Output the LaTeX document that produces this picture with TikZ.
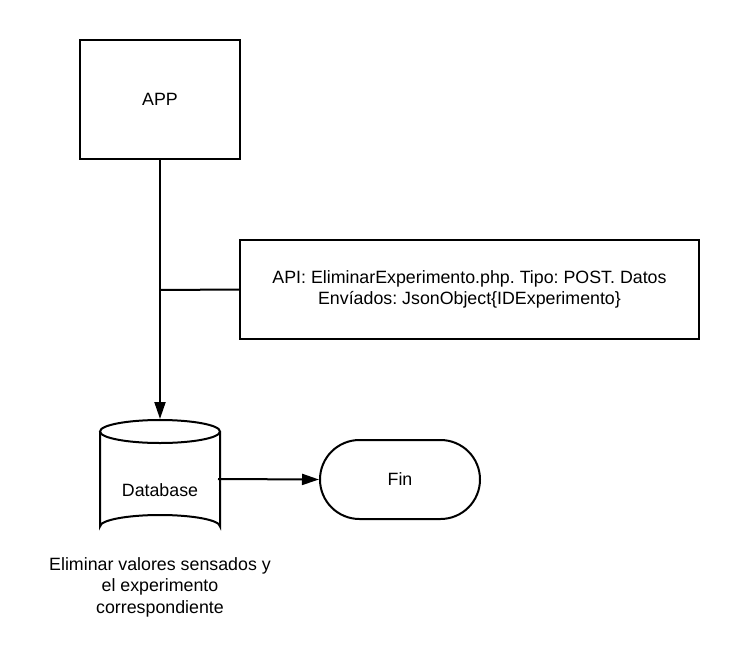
\documentclass[tikz,border=0pt]{standalone}
\usepackage{fontspec}
\setmainfont{Liberation Sans}
\usetikzlibrary{arrows.meta}
\frenchspacing
\begin{document}
\begin{tikzpicture}[x=1pt,y=-1pt,
  line width=2pt,
  every node/.style={font=\fontsize{17.8}{21.5}\selectfont, align=center},
  procbox/.style={draw, rectangle, inner sep=0pt},
  termbox/.style={draw, rectangle, rounded corners=39.5pt, inner sep=0pt,
    minimum width=160pt, minimum height=79pt},
  flow/.style={-{Triangle[length=17pt,width=11pt]}}
]
\useasboundingbox (0,0) rectangle (740,667);

% application box
\node[procbox, minimum width=160pt, minimum height=119pt] (app) at (160,99.5) {APP};

% request description
\node[procbox, minimum width=459pt, minimum height=99pt] (api) at (469.5,289.5)
  {API: EliminarExperimento.php. Tipo: POST. Datos\\Envíados: JsonObject\{IDExperimento\}};

% database cylinder
\node[minimum width=120pt, minimum height=118pt, inner sep=0pt] (db) at (160,479) {};
\draw (100,431.5) -- (100,526.5) arc[start angle=180, end angle=360, x radius=60, y radius=11.5]
      -- (220,431.5);
\draw (160,431.5) ellipse[x radius=60, y radius=11.5];
\node (dblabel) at (160,490) {Database};

% end terminal
\node[termbox] (fin) at (400,479.5) {Fin};

% caption under the database
\node (note) at (160,587) {Eliminar valores sensados y\\el experimento\\correspondiente};

% connectors
\coordinate (tap) at (160,290);
\draw[flow] (app.south) -- (160,419);
\draw (tap) -- (api.west);
\draw[flow] (218,479) -- (fin.west);
\end{tikzpicture}
\end{document}
